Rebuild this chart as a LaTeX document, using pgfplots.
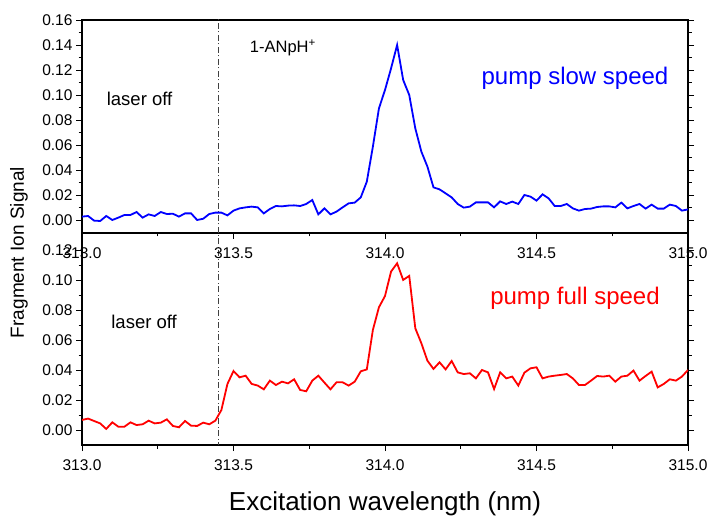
\documentclass[border=0pt]{standalone}
\usepackage{fontspec}
\setmainfont{Liberation Sans}
\usepackage{pgfplots}
\pgfplotsset{compat=1.18}
\usepackage{pgfplotstable}

\pgfplotstableread{
x y
313.00 0.0027
313.02 0.0032
313.04 -0.0005
313.06 -0.0008
313.08 0.0032
313.10 0.0000
313.12 0.0019
313.14 0.0040
313.16 0.0040
313.18 0.0064
313.20 0.0019
313.22 0.0045
313.24 0.0032
313.26 0.0064
313.28 0.0048
313.30 0.0050
313.32 0.0027
313.34 0.0053
313.36 0.0053
313.38 0.0000
313.40 0.0010
313.42 0.0048
313.44 0.0059
313.46 0.0059
313.48 0.0037
313.50 0.0075
313.52 0.0093
313.54 0.0101
313.56 0.0107
313.58 0.0101
313.60 0.0053
313.62 0.0088
313.64 0.0112
313.66 0.0109
313.68 0.0115
313.70 0.0117
313.72 0.0112
313.74 0.0128
313.76 0.0160
313.78 0.0045
313.80 0.0093
313.82 0.0045
313.84 0.0067
313.86 0.0101
313.88 0.0133
313.90 0.0139
313.92 0.0181
313.94 0.0307
313.96 0.0587
313.98 0.0893
314.00 0.1040
314.02 0.1213
314.04 0.1400
314.06 0.1120
314.08 0.1000
314.10 0.0733
314.12 0.0547
314.14 0.0427
314.16 0.0261
314.18 0.0245
314.20 0.0213
314.22 0.0181
314.24 0.0128
314.26 0.0099
314.28 0.0107
314.30 0.0141
314.32 0.0141
314.34 0.0141
314.36 0.0101
314.38 0.0149
314.40 0.0128
314.42 0.0147
314.44 0.0128
314.46 0.0200
314.48 0.0187
314.50 0.0155
314.52 0.0205
314.54 0.0173
314.56 0.0112
314.58 0.0112
314.60 0.0128
314.62 0.0093
314.64 0.0075
314.66 0.0088
314.68 0.0091
314.70 0.0104
314.72 0.0109
314.74 0.0109
314.76 0.0101
314.78 0.0139
314.80 0.0093
314.82 0.0112
314.84 0.0128
314.86 0.0091
314.88 0.0123
314.90 0.0091
314.92 0.0091
314.94 0.0123
314.96 0.0112
314.98 0.0075
315.00 0.0085
}\slowtable

\pgfplotstableread{
x y
313.00 0.0067
313.02 0.0076
313.04 0.0060
313.06 0.0044
313.08 0.0007
313.10 0.0051
313.12 0.0022
313.14 0.0022
313.16 0.0051
313.18 0.0033
313.20 0.0038
313.22 0.0062
313.24 0.0044
313.26 0.0049
313.28 0.0071
313.30 0.0027
313.32 0.0018
313.34 0.0060
313.36 0.0029
313.38 0.0027
313.40 0.0049
313.42 0.0038
313.44 0.0062
313.46 0.0133
313.48 0.0307
313.50 0.0393
313.52 0.0351
313.54 0.0362
313.56 0.0307
313.58 0.0296
313.60 0.0271
313.62 0.0329
313.64 0.0300
313.66 0.0322
313.68 0.0311
313.70 0.0338
313.72 0.0267
313.74 0.0258
313.76 0.0329
313.78 0.0362
313.80 0.0316
313.82 0.0271
313.84 0.0318
313.86 0.0318
313.88 0.0296
313.90 0.0322
313.92 0.0391
313.94 0.0404
313.96 0.0667
313.98 0.0818
314.00 0.0893
314.02 0.1056
314.04 0.1111
314.06 0.1000
314.08 0.1027
314.10 0.0678
314.12 0.0578
314.14 0.0462
314.16 0.0407
314.18 0.0451
314.20 0.0404
314.22 0.0460
314.24 0.0384
314.26 0.0373
314.28 0.0378
314.30 0.0344
314.32 0.0400
314.34 0.0384
314.36 0.0273
314.38 0.0384
314.40 0.0344
314.42 0.0356
314.44 0.0296
314.46 0.0382
314.48 0.0411
314.50 0.0418
314.52 0.0344
314.54 0.0356
314.56 0.0362
314.58 0.0367
314.60 0.0373
314.62 0.0344
314.64 0.0300
314.66 0.0300
314.68 0.0329
314.70 0.0360
314.72 0.0356
314.74 0.0362
314.76 0.0322
314.78 0.0356
314.80 0.0362
314.82 0.0396
314.84 0.0329
314.86 0.0360
314.88 0.0389
314.90 0.0284
314.92 0.0307
314.94 0.0338
314.96 0.0329
314.98 0.0356
315.00 0.0400
}\fulltable

\definecolor{refgray}{HTML}{404040}

\pgfplotsset{
  panel/.style={
    scale only axis,
    width=606pt,
    xmin=313, xmax=315,
    xtick={313,313.5,314,314.5,315},
    minor x tick num=1,
    minor y tick num=1,
    xtick pos=lower,
    ytick pos=both,
    yticklabel pos=left,
    tick align=outside,
    major tick length=6pt,
    minor tick length=3.5pt,
    axis line style={line width=1.1pt},
    every tick/.style={black,line width=0.9pt},
    /pgf/number format/assume math mode=true,
    ticklabel style={font=\fontsize{15.5}{18}\selectfont},
    xticklabel style={yshift=-5pt,/pgf/number format/.cd,fixed,fixed zerofill,precision=1},
    yticklabel style={/pgf/number format/.cd,fixed,fixed zerofill,precision=2},
    scaled ticks=false,
  },
}

\begin{document}
\begin{tikzpicture}
\path (-82pt,-69pt) rectangle (630pt,445pt);

\begin{axis}[panel, name=bot, anchor=south west, at={(0pt,0pt)},
  height=212pt, ymin=-0.01, ymax=0.1313,
  ytick={0,0.02,0.04,0.06,0.08,0.10,0.12}]
\addplot[refgray, line width=0.9pt, dash pattern=on 6pt off 2.5pt on 1pt off 2.5pt]
  coordinates {(313.45,-0.02) (313.45,0.2)};
\addplot[red, line width=1.8pt] table {\fulltable};
\node[font=\fontsize{18.5}{22}\selectfont] at (axis cs:313.205,0.072) {laser off};
\node[red, font=\fontsize{24}{28}\selectfont] at (axis cs:314.627,0.088) {pump full speed};
\end{axis}

\begin{axis}[panel, name=top, anchor=south west, at={(0pt,212pt)},
  height=213pt, ymin=-0.0104, ymax=0.16,
  ytick={0,0.02,0.04,0.06,0.08,0.10,0.12,0.14,0.16}]
\addplot[refgray, line width=0.9pt, dash pattern=on 6pt off 2.5pt on 1pt off 2.5pt]
  coordinates {(313.45,-0.02) (313.45,0.2)};
\addplot[blue, line width=1.8pt] table {\slowtable};
\node[font=\fontsize{18.5}{22}\selectfont] at (axis cs:313.19,0.0968) {laser off};
\node[font=\fontsize{16.5}{20}\selectfont] at (axis cs:313.663,0.1376) {1-ANpH\textsuperscript{+}};
\node[blue, font=\fontsize{24}{28}\selectfont] at (axis cs:314.627,0.1136) {pump slow speed};
\end{axis}

\node[rotate=90, font=\fontsize{19}{22}\selectfont] at (-63pt,192.5pt) {Fragment Ion Signal};
\node[anchor=base, font=\fontsize{26}{30}\selectfont] at (303pt,-65pt) {Excitation wavelength (nm)};
\end{tikzpicture}
\end{document}
